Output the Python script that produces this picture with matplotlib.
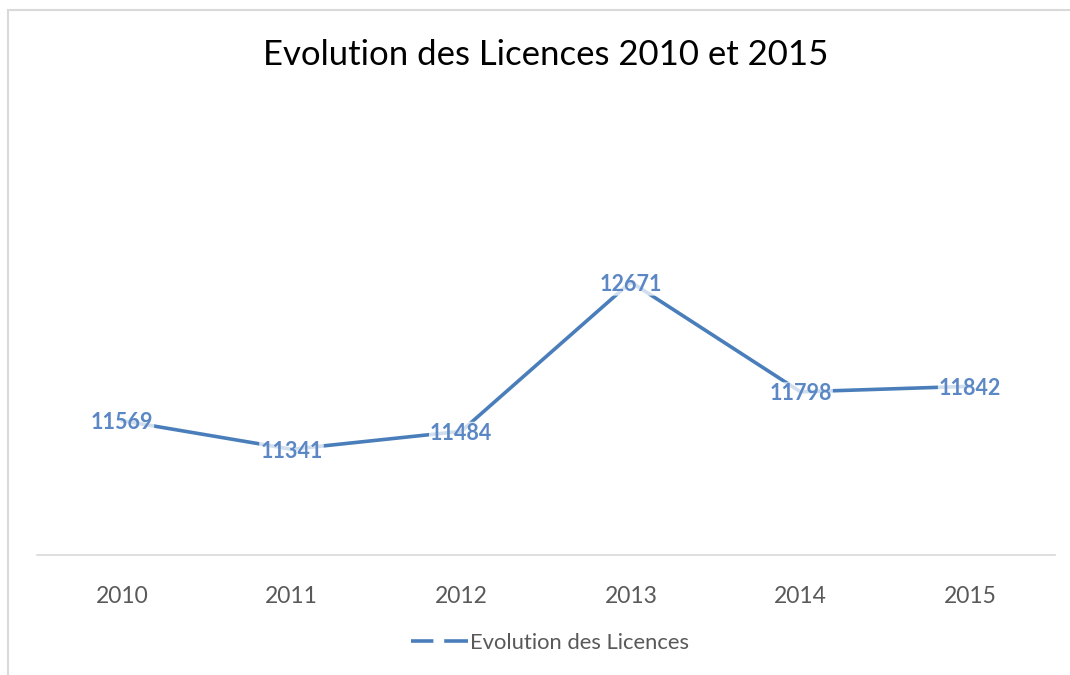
import matplotlib
matplotlib.use("Agg")
import matplotlib.pyplot as plt
from matplotlib.patches import Rectangle
from matplotlib.lines import Line2D

years = ["2010", "2011", "2012", "2013", "2014", "2015"]
licences = [11569, 11341, 11484, 12671, 11798, 11842]
title = "Evolution des Licences 2010 et 2015"
series_name = "Evolution des Licences"

plt.rcParams['font.family'] = ['Lato', 'DejaVu Sans']

W, H = 1070, 675
fig = plt.figure(figsize=(W / 100, H / 100), dpi=100)
ax = fig.add_axes([37 / W, 1 - 555 / H, (1055 - 37) / W, (555 - 115) / H])

line_color = "#4A7EBB"
x = list(range(len(years)))
ax.plot(x, licences, color=line_color, lw=2.6, solid_capstyle="round", zorder=2)
for xi, v in zip(x, licences):
    ax.text(xi, v, str(v), ha="center", va="center_baseline", fontsize=15.5, fontweight="bold",
            color="#5B87C5", zorder=3,
            bbox=dict(boxstyle="round,pad=0.05", fc="white", ec="none", alpha=0.75))

ax.set_xlim(-0.5, len(years) - 0.5)
ax.set_ylim(10500, 14000)
ax.set_xticks(x)
ax.set_xticklabels(years, fontsize=16.5, color="#595959")
ax.tick_params(axis="x", length=0, pad=22)
ax.set_yticks([])
for s in ["top", "right", "left"]:
    ax.spines[s].set_visible(False)
ax.spines["bottom"].set_color("#D9D9D9")
ax.spines["bottom"].set_linewidth(1.2)

fig.text(546 / W, 1 - 55 / H, title, ha="center", va="center", fontsize=25, color="black")

handle = Line2D([], [], color=line_color, lw=2.6, linestyle=(0, (6.2, 3.0, 6.6, 40)))
fig.legend([handle], [series_name], loc="center", bbox_to_anchor=(550 / W, 1 - 643 / H),
           frameon=False, fontsize=15.8, labelcolor="#595959", handlelength=2.6,
           handletextpad=0.1)

fig.patches.append(Rectangle((8 / W, -0.1), 1.2, 1.1 - 10 / H, transform=fig.transFigure,
                             fill=False, ec="#D9D9D9", lw=1.5, zorder=0))

fig.savefig("out.png", dpi=100)
